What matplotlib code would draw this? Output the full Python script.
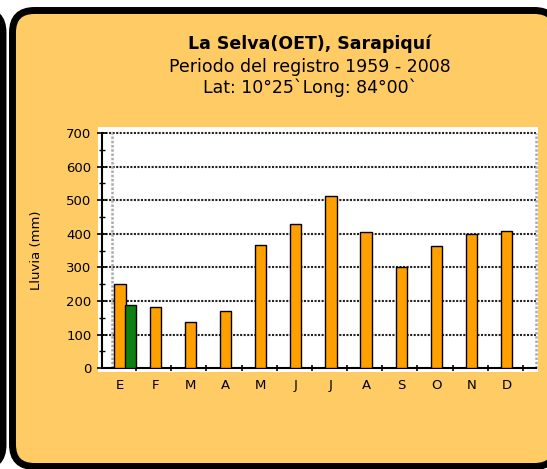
import matplotlib.pyplot as plt
from matplotlib.patches import FancyBboxPatch, Rectangle
import numpy as np

# Monthly rainfall, La Selva (OET), Sarapiqui
meses = ["E", "F", "M", "A", "M", "J", "J", "A", "S", "O", "N", "D"]
lluvia = [251, 181, 137, 170, 367, 428, 513, 405, 302, 364, 399, 408]
# second series, only January
lluvia_ene = [189]

W, H = 547, 469
fig = plt.figure(figsize=(W / 100, H / 100), dpi=100)
fig.patch.set_facecolor("white")

def inch(x, y):
    # pixel position (from top-left) to inches for dpi_scale_trans
    return x / 100, (H - y) / 100

# neighbouring panel on the left edge
x0, y0 = inch(-300, 467)
fig.add_artist(FancyBboxPatch((x0, y0), 3.03, 4.565,
                              boxstyle="round,pad=0,rounding_size=0.22",
                              transform=fig.dpi_scale_trans,
                              facecolor="#FECB65", edgecolor="black", lw=5,
                              zorder=-10))

# main panel
x0, y0 = inch(12.5, 466.5)
fig.add_artist(FancyBboxPatch((x0, y0), 5.44, 4.56,
                              boxstyle="round,pad=0,rounding_size=0.22",
                              transform=fig.dpi_scale_trans,
                              facecolor="#FECB65", edgecolor="black", lw=5,
                              zorder=-9))

# white plot background
fig.add_artist(Rectangle((98 / W, 1 - 372 / H), 440 / W, 245 / H,
                         transform=fig.transFigure, facecolor="white",
                         edgecolor="none", zorder=-8))

# titles
fig.text(310 / W, 1 - 44 / H, "La Selva(OET), Sarapiquí", ha="center",
         va="center", fontsize=12.5, fontweight="bold")
fig.text(310 / W, 1 - 67 / H, "Periodo del registro 1959 - 2008",
         ha="center", va="center", fontsize=12.5)
fig.text(310 / W, 1 - 88 / H, "Lat: 10°25`Long: 84°00`", ha="center",
         va="center", fontsize=12.5)

ax = fig.add_axes([102 / W, 1 - 368.3 / H, 434 / W, 235.3 / H])
ax.set_facecolor("none")

x = np.arange(len(meses))
ax.set_xlim(-0.512, 11.835)
ax.set_ylim(0, 700)

# grid lines
for v in range(100, 800, 100):
    ax.axhline(v, color="#222222", lw=1.5, ls=(0, (1, 0.7)), zorder=1,
               clip_on=False)
ax.axvline(-0.236, color="#aaaaaa", lw=1.8, ls=(0, (1, 0.7)), zorder=1)
ax.axvline(11.835, color="#aaaaaa", lw=1.8, ls=(0, (1, 0.7)), zorder=1,
           clip_on=False)

ax.bar(x, lluvia, width=0.32, color="#FFA000", edgecolor="black",
       lw=1.0, zorder=3)
ax.bar([0.3], lluvia_ene, width=0.31, color="#0E7F12", edgecolor="black",
       lw=1.0, zorder=3)

for s in ["top", "right"]:
    ax.spines[s].set_visible(False)
ax.spines["left"].set_linewidth(1.5)
ax.spines["bottom"].set_linewidth(1.5)

ax.set_yticks(range(0, 800, 100))
ax.set_yticks(range(50, 700, 100), minor=True)
ax.tick_params(axis="y", which="major", direction="inout", length=7,
               width=1.2, labelsize=9.5, pad=4)
ax.tick_params(axis="y", which="minor", direction="inout", length=4,
               width=1.0)

ax.set_xticks(x)
ax.set_xticklabels(meses)
ax.set_xticks(x + 0.46, minor=True)
ax.tick_params(axis="x", which="major", length=0, labelsize=9.5, pad=8)
ax.tick_params(axis="x", which="minor", direction="inout", length=5,
               width=1.2)

ax.set_ylabel("Lluvia (mm)", fontsize=9.5, labelpad=17)

fig.savefig("out.png", dpi=100)
